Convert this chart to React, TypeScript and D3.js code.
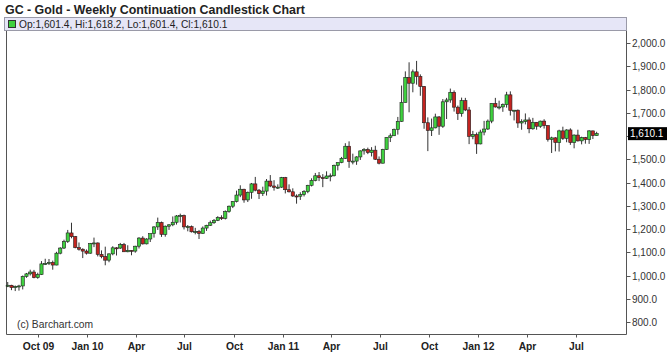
import React, { useEffect, useRef } from "react";
import * as d3 from "d3";

// weekly bars, first week starting Monday 2009-08-03
const firstWeek = "2009-08-03";

const opens = [
  955, 958, 948, 953, 955, 996, 1007, 1015, 991, 1004,
  1050, 1052, 1056, 1045, 1096, 1118, 1146, 1183, 1167, 1120,
  1113, 1105, 1096, 1137, 1140, 1091, 1081, 1066, 1093, 1119,
  1118, 1133, 1102, 1108, 1105, 1126, 1161, 1136, 1157, 1180,
  1209, 1228, 1177, 1212, 1218, 1229, 1256, 1258, 1209, 1210,
  1188, 1189, 1181, 1204, 1216, 1227, 1237, 1249, 1246, 1275,
  1298, 1318, 1346, 1371, 1325, 1358, 1394, 1367, 1352, 1363,
  1406, 1385, 1379, 1380, 1421, 1369, 1360, 1342, 1341, 1348,
  1361, 1388, 1409, 1429, 1421, 1418, 1428, 1429, 1474, 1486,
  1504, 1556, 1491, 1492, 1510, 1536, 1542, 1529, 1539, 1500,
  1483, 1542, 1594, 1601, 1628, 1663, 1744, 1852, 1827, 1876,
  1856, 1813, 1657, 1624, 1635, 1682, 1642, 1747, 1755, 1788,
  1724, 1696, 1752, 1712, 1598, 1606, 1566, 1617, 1630, 1664,
  1740, 1725, 1725, 1735, 1777, 1710, 1711, 1656, 1662, 1669,
  1631, 1659, 1642, 1664, 1645, 1585, 1592, 1572, 1622, 1590,
  1626, 1572, 1604, 1579, 1593, 1585, 1622, 1601.4,
];

const highs = [
  972, 960, 957, 960, 1000, 1011, 1025, 1024, 1012, 1062,
  1072, 1071, 1064, 1102, 1122, 1154, 1196, 1227, 1170, 1142,
  1117, 1112, 1140, 1163, 1142, 1108, 1124, 1095, 1126, 1122,
  1140, 1140, 1130, 1109, 1128, 1165, 1169, 1160, 1180, 1212,
  1249, 1232, 1215, 1221, 1254, 1260, 1266, 1262, 1217, 1215,
  1205, 1196, 1211, 1218, 1236, 1243, 1255, 1259, 1280, 1301,
  1320, 1365, 1388, 1373, 1361, 1398, 1424, 1372, 1382, 1415,
  1432, 1410, 1392, 1424, 1424, 1392, 1375, 1349, 1358, 1367,
  1390, 1418, 1441, 1445, 1436, 1448, 1439, 1477, 1486, 1510,
  1569, 1577, 1524, 1513, 1538, 1548, 1550, 1552, 1558, 1512,
  1545, 1594, 1611, 1632, 1682, 1817, 1878, 1917, 1886, 1923,
  1865, 1815, 1680, 1675, 1696, 1686, 1759, 1764, 1804, 1796,
  1731, 1765, 1764, 1725, 1622, 1615, 1627, 1665, 1671, 1740,
  1764, 1752, 1740, 1790, 1792, 1712, 1714, 1672, 1697, 1680,
  1678, 1660, 1666, 1672, 1646, 1597, 1595, 1627, 1640, 1629,
  1633, 1607, 1627, 1597, 1596, 1625, 1623, 1618.2,
];

const lows = [
  950, 937, 933, 935, 940, 990, 1000, 988, 986, 1002,
  1045, 1045, 1025, 1044, 1091, 1114, 1140, 1160, 1117, 1107,
  1075, 1090, 1093, 1122, 1082, 1074, 1044, 1057, 1087, 1086,
  1114, 1102, 1100, 1087, 1098, 1116, 1133, 1134, 1144, 1163,
  1196, 1166, 1167, 1196, 1212, 1219, 1228, 1198, 1190, 1185,
  1177, 1157, 1180, 1192, 1213, 1222, 1234, 1239, 1241, 1270,
  1290, 1314, 1337, 1313, 1316, 1330, 1362, 1329, 1342, 1344,
  1380, 1365, 1372, 1377, 1353, 1357, 1338, 1309, 1325, 1340,
  1354, 1383, 1405, 1406, 1380, 1415, 1405, 1426, 1452, 1483,
  1501, 1463, 1478, 1476, 1497, 1520, 1522, 1512, 1497, 1478,
  1482, 1540, 1574, 1600, 1606, 1661, 1744, 1702, 1788, 1821,
  1773, 1631, 1535, 1600, 1633, 1605, 1635, 1673, 1743, 1705,
  1669, 1683, 1707, 1565, 1586, 1523, 1564, 1603, 1626, 1655,
  1722, 1714, 1704, 1722, 1688, 1667, 1635, 1627, 1650, 1612,
  1627, 1627, 1635, 1632, 1576, 1527, 1534, 1533, 1583, 1573,
  1562, 1547, 1576, 1564, 1567, 1566, 1587, 1601.4,
];

const closes = [
  958, 948, 953, 955, 996, 1007, 1015, 991, 1004, 1050,
  1052, 1056, 1045, 1096, 1118, 1146, 1183, 1167, 1120, 1113,
  1105, 1096, 1137, 1140, 1091, 1081, 1066, 1093, 1119, 1118,
  1133, 1102, 1108, 1105, 1126, 1161, 1136, 1157, 1180, 1209,
  1228, 1177, 1212, 1218, 1229, 1256, 1258, 1209, 1210, 1188,
  1189, 1181, 1204, 1216, 1227, 1237, 1249, 1246, 1275, 1298,
  1318, 1346, 1371, 1325, 1358, 1394, 1367, 1352, 1363, 1406,
  1385, 1379, 1380, 1421, 1369, 1360, 1342, 1341, 1348, 1361,
  1388, 1409, 1429, 1421, 1418, 1428, 1429, 1474, 1486, 1504,
  1556, 1491, 1492, 1510, 1536, 1542, 1529, 1539, 1500, 1483,
  1542, 1594, 1601, 1628, 1663, 1744, 1852, 1827, 1876, 1856,
  1813, 1657, 1624, 1635, 1682, 1642, 1747, 1755, 1788, 1724,
  1696, 1752, 1712, 1598, 1606, 1566, 1617, 1630, 1664, 1740,
  1725, 1725, 1735, 1777, 1710, 1711, 1656, 1662, 1669, 1631,
  1659, 1642, 1664, 1645, 1585, 1592, 1572, 1622, 1590, 1626,
  1572, 1604, 1579, 1593, 1585, 1622, 1601.4, 1610.1,
];

const priceTicks = [800, 900, 1000, 1100, 1200, 1300, 1400, 1500, 1600, 1700, 1800, 1900, 2000];
const monthTicks = [
  "2009-10-01", "2010-01-01", "2010-04-01", "2010-07-01", "2010-10-01", "2011-01-01",
  "2011-04-01", "2011-07-01", "2011-10-01", "2012-01-01", "2012-04-01", "2012-07-01",
];
const monthLabels = ["Oct 09", "Jan 10", "Apr", "Jul", "Oct", "Jan 11", "Apr", "Jul", "Oct", "Jan 12", "Apr", "Jul"];

const title = "GC - Gold - Weekly Continuation Candlestick Chart";
const font = "Arial, 'Liberation Sans', sans-serif";
const upColor = "#3fd13f";
const downColor = "#c42420";

const App: React.FC = () => {
  const svgRef = useRef<SVGSVGElement>(null);

  useEffect(() => {
    if (!svgRef.current) return;
    const svg = d3.select(svgRef.current);
    svg.selectAll("*").remove();

    const parse = d3.timeParse("%Y-%m-%d");
    const left = 6.5, right = 626.5, top = 31, bottom = 334.5;

    const x = d3
      .scaleTime()
      .domain([parse("2009-10-01")!, parse("2012-07-01")!])
      .range([38, 576]);
    const y = d3.scaleLinear().domain([800, 2000]).range([322, 43]);

    const start = parse(firstWeek)!;
    const bars = closes.map((c, i) => ({
      date: d3.timeHour.offset(d3.timeWeek.offset(start, i), 60),
      o: opens[i],
      h: highs[i],
      l: lows[i],
      c,
    }));
    const last = bars[bars.length - 1];
    const ly = y(last.c);
    const f1 = d3.format(",.1f");

    // title + legend strip
    svg.append("text")
      .attr("x", 5).attr("y", 14)
      .attr("font-family", font).attr("font-size", 12.4).attr("font-weight", "bold")
      .attr("fill", "#222")
      .text(title);

    svg.append("rect")
      .attr("x", 4.5).attr("y", 17.5).attr("width", 622).attr("height", 13)
      .attr("fill", "#e6e6f7").attr("stroke", "#9a9aa8");
    svg.append("rect")
      .attr("x", 8.5).attr("y", 20.5).attr("width", 7).attr("height", 7)
      .attr("fill", upColor).attr("stroke", "#333");
    svg.append("text")
      .attr("x", 19).attr("y", 27.8)
      .attr("font-family", font).attr("font-size", 10.2).attr("fill", "#222")
      .text(`Op:${f1(last.o)}, Hi:${f1(last.h)}, Lo:${f1(last.l)}, Cl:${f1(last.c)}`);

    // frame
    svg.append("path")
      .attr("d", `M${left},${top}V${bottom}H${right}V${top}`)
      .attr("fill", "none").attr("stroke", "#555");

    // right price axis (labels under the last-price box are hidden, as in the original)
    const yAxis = svg.append("g");
    priceTicks.forEach((p) => {
      const py = Math.round(y(p)) + 0.5;
      yAxis.append("line")
        .attr("x1", right).attr("x2", right + 4).attr("y1", py).attr("y2", py)
        .attr("stroke", "#555");
      if (Math.abs(py - ly) < 12) return;
      yAxis.append("text")
        .attr("x", 632).attr("y", py).attr("dy", "0.35em")
        .attr("font-family", font).attr("font-size", 10).attr("fill", "#333")
        .text(f1(p));
    });

    // bottom date axis
    const xAxis = svg.append("g");
    monthTicks.forEach((d, i) => {
      const px = Math.round(x(parse(d)!)) + 0.5;
      xAxis.append("line")
        .attr("x1", px).attr("x2", px).attr("y1", bottom).attr("y2", bottom + 3)
        .attr("stroke", "#555");
      xAxis.append("text")
        .attr("x", px).attr("y", 349.5).attr("text-anchor", "middle")
        .attr("font-family", font).attr("font-size", 10.3).attr("font-weight", "bold")
        .attr("fill", "#222")
        .text(monthLabels[i]);
    });

    svg.append("text")
      .attr("x", 17).attr("y", 327.5)
      .attr("font-family", font).attr("font-size", 10.3).attr("fill", "#333")
      .text("(c) Barchart.com");

    // candles
    const bw = 3.2;
    const g = svg.append("g");
    g.selectAll(".wick")
      .data(bars)
      .enter()
      .append("line")
      .attr("x1", (d) => x(d.date)).attr("x2", (d) => x(d.date))
      .attr("y1", (d) => y(d.h)).attr("y2", (d) => y(d.l))
      .attr("stroke", "#333").attr("stroke-width", 1);
    g.selectAll(".body")
      .data(bars)
      .enter()
      .append("rect")
      .attr("x", (d) => x(d.date) - bw / 2)
      .attr("y", (d) => y(Math.max(d.o, d.c)))
      .attr("width", bw)
      .attr("height", (d) => Math.max(1, Math.abs(y(d.o) - y(d.c))))
      .attr("fill", (d) => (d.c >= d.o ? upColor : downColor))
      .attr("stroke", "#1e1e1e").attr("stroke-width", 0.6);

    // last price marker
    svg.append("rect")
      .attr("x", 628).attr("y", ly - 6.5).attr("width", 39).attr("height", 13)
      .attr("fill", "#000");
    svg.append("text")
      .attr("x", 630).attr("y", ly).attr("dy", "0.35em")
      .attr("font-family", font).attr("font-size", 10).attr("fill", "#fff")
      .text(f1(last.c));
  }, []);

  return (
    <svg
      ref={svgRef}
      width={672}
      height={352}
      style={{ position: "absolute", left: 0, top: 0, background: "#fff" }}
    />
  );
};

export default App;
